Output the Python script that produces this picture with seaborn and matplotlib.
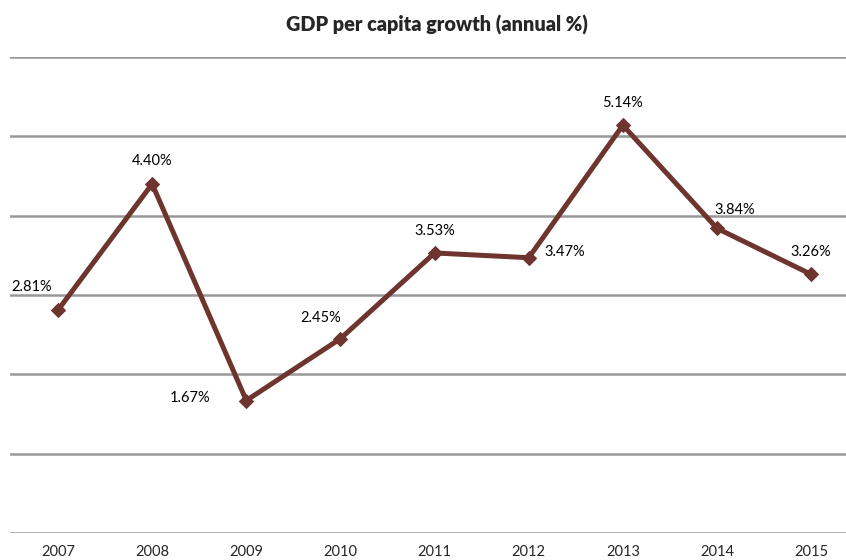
import matplotlib
matplotlib.use("Agg")
import matplotlib.pyplot as plt
import seaborn as sns
import pandas as pd

years = ["2007", "2008", "2009", "2010", "2011", "2012", "2013", "2014", "2015"]
growth = [2.81, 4.40, 1.67, 2.45, 3.53, 3.47, 5.14, 3.84, 3.26]
# label offsets (pixels) relative to each point
label_dx = [-26, 0, -56, -20, 0, 36, 0, 18, 0]
label_dy = [23, 23, 3, 21, 22, 6, 22, 18, 22]

sns.set_theme(style="white")
plt.rcParams["font.family"] = ["Lato", "DejaVu Sans"]

line_color = "#6E352F"
grid_color = "#989898"

df = pd.DataFrame({"idx": range(len(years)), "year": years, "growth": growth})

fig = plt.figure(figsize=(8.46, 5.6), dpi=100)
ax = fig.add_axes([10 / 846, 27 / 560, 836 / 846, 476 / 560])

sns.lineplot(data=df, x="idx", y="growth", ax=ax, color=line_color,
             linewidth=3.6, marker="D", markersize=7,
             markeredgecolor=line_color, markerfacecolor=line_color, zorder=3)

for i, v in enumerate(growth):
    ax.annotate(f"{v:.2f}%", (i, v), xytext=(label_dx[i], label_dy[i]),
                textcoords="offset pixels", ha="center", va="center",
                fontsize=10.5, color="black")

ax.set_ylim(0, 6)
ax.set_xlim(-0.51, 8.37)
ax.set_yticks(range(0, 7))
ax.set_yticklabels([])
ax.yaxis.grid(True, color=grid_color, linewidth=1.8)
ax.set_axisbelow(True)
ax.set_xticks(range(len(years)))
ax.set_xticklabels(years, fontsize=10.5)
ax.tick_params(axis="x", length=0, pad=9)
ax.tick_params(axis="y", length=0)
for s in ax.spines.values():
    s.set_visible(False)
ax.set_xlabel("")
ax.set_ylabel("")

fig.text(437 / 846, 1 - 25 / 560, "GDP per capita growth (annual %)",
         ha="center", va="center", fontsize=14.3, fontweight="heavy")

fig.savefig("out.png", dpi=100)
